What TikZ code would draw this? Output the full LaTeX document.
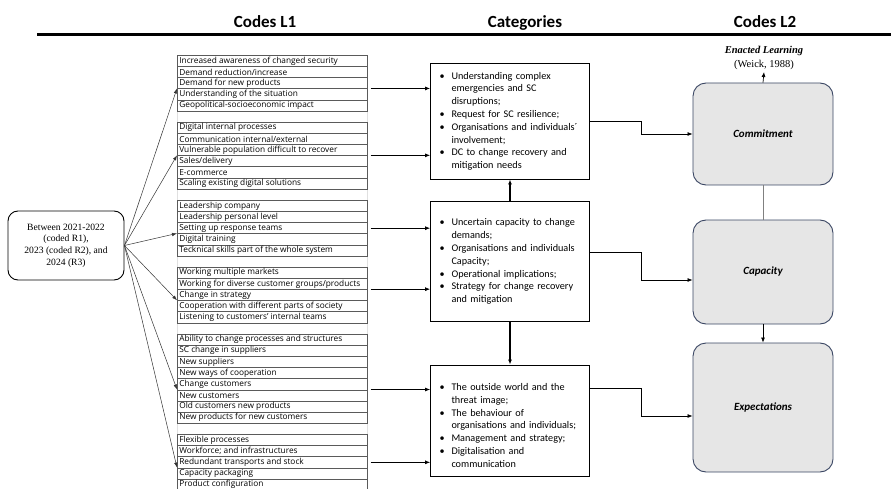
\documentclass[tikz,border=0pt]{standalone}
\usepackage{fontspec}
\setmainfont{Liberation Serif}
\newfontfamily\calib{Carlito}
\newfontfamily\listsans{Open Sans}
\usetikzlibrary{arrows.meta}
\definecolor{l2fill}{HTML}{E6E6E6}
\definecolor{l2line}{HTML}{3A4663}
\definecolor{rowline}{HTML}{5A5A5A}
\hyphenpenalty=10000
\exhyphenpenalty=10000
\newcommand\codegroup[3]{%
  \foreach \txt [count=\i] in {#3}{%
    \node[coderow] (#1-\i) at (177,{55+(#2+\i-1)*11.15}) {\makebox[186pt][l]{\txt}};}}
\newcommand\bul{\makebox[12pt][l]{\textbullet}}
\newcommand\cont{\hspace*{12pt}}
\begin{document}
\begin{tikzpicture}[x=1pt,y=-1pt,
  coderow/.style={draw=rowline, line width=0.7pt, anchor=north west,
    inner xsep=2pt, inner ysep=0pt, minimum height=11.15pt,
    font=\listsans\fontsize{8.3}{9}\selectfont},
  cat/.style={draw, line width=0.9pt, text width=141pt, inner xsep=9pt, inner ysep=0pt,
    align=left, font=\calib\fontsize{10.2}{12.8}\selectfont},
  leftbox/.style={draw, rounded corners=10pt, line width=0.9pt, minimum width=116pt,
    minimum height=69pt, align=center, font=\fontsize{9.6}{11.7}\selectfont},
  l2/.style={draw=l2line, fill=l2fill, rounded corners=13pt, line width=0.9pt,
    minimum width=140pt, font=\calib\bfseries\itshape\fontsize{11}{13}\selectfont},
  header/.style={anchor=base, font=\calib\bfseries\fontsize{17}{20}\selectfont},
  arr/.style={-{Latex[length=5pt,width=4pt]}, line width=0.7pt},
  fan/.style={-{Latex[length=5pt,width=3.5pt]}, line width=0.5pt, draw=black!80},
  bigarr/.style={-{Latex[length=5pt,width=4pt]}, line width=1.2pt}
]
\useasboundingbox (0,0) rectangle (891,489);

% headers
\node[header] (h1) at (265,28) {Codes L1};
\node[header] (h2) at (525,28) {Categories};
\node[header] (h3) at (765,28) {Codes L2};
\draw[line width=3pt] (37,34.5) -- (891,34.5);

% faint table frame
\draw[black!12, line width=0.6pt] (177,55) rectangle (367,492);

% code groups
\codegroup{ga}{0}{Increased awareness of changed security,Demand reduction/increase,Demand for new products,Understanding of the situation,Geopolitical-socioeconomic impact}
\codegroup{gb}{6}{Digital internal processes,Communication internal/external,Vulnerable population difficult to recover,Sales/delivery,E-commerce,Scaling existing digital solutions}
\codegroup{gc}{13}{Leadership company,Leadership personal level,Setting up response teams,Digital training,Tecknical skills part of the whole system}
\codegroup{gd}{19}{Working multiple markets,Working for diverse customer groups/products,Change in strategy,Cooperation with different parts of society,Listening to customers’ internal teams}
\codegroup{ge}{25}{Ability to change  processes and structures,SC change in suppliers,New suppliers,New ways of cooperation,Change customers,New customers,Old customers new products,New products  for new customers}
\codegroup{gf}{34}{Flexible processes,Workforce; and infrastructures,Redundant transports and stock,Capacity packaging,Product configuration}

% left source box
\node[leftbox] (src) at (66,245.5) {Between 2021-2022\\(coded R1),\\2023 (coded R2), and\\2024 (R3)};

\draw[fan] (src.east) -- (ga-4.north west);
\draw[fan] (src.east) -- (gb-4.north west);
\draw[fan] (src.east) -- (gc-4.north west);
\draw[fan] (src.east) -- (gd-4.north west);
\draw[fan] (src.east) -- (ge-6.north west);
\draw[fan] (src.east) -- (gf-4.north west);

% categories
\node[cat, minimum height=115.7pt] (cat1) at (510,121.2) {%
\bul Understanding complex\\
\cont emergencies and SC\\
\cont disruptions;\\
\bul Request for SC resilience;\\
\bul Organisations and individuals´\\
\cont involvement;\\
\bul DC to change recovery and\\
\cont mitigation needs};
\node[cat, minimum height=120pt] (cat2) at (510,261.7) {%
\bul Uncertain capacity to change\\
\cont demands;\\
\bul Organisations and individuals\\
\cont Capacity;\\
\bul Operational implications;\\
\bul Strategy for change recovery\\
\cont and mitigation};
\node[cat, minimum height=111pt] (cat3) at (510,420.5) {%
\rule{0pt}{17pt}\bul The outside world and the\\
\cont threat image;\\
\bul The behaviour of\\
\cont organisations and individuals;\\
\bul Management and strategy;\\
\bul Digitalisation and\\
\cont communication};

% codes -> categories
\draw[arr] ([xshift=3pt]ga-4.north east) coordinate (sa) -- (sa -| cat1.west);
\draw[arr] ([xshift=3pt]gb-4.north east) coordinate (sb) -- (sb -| cat1.west);
\draw[arr] ([xshift=3pt]gc-3.east) coordinate (sc) -- (sc -| cat2.west);
\draw[arr] ([xshift=3pt]gd-3.north east) coordinate (sd) -- (sd -| cat2.west);
\draw[arr] ([xshift=3pt]ge-6.north east) coordinate (se) -- (se -| cat3.west);
\draw[arr] ([xshift=3pt]gf-3.east) coordinate (sf) -- (sf -| cat3.west);

\draw[bigarr] (cat2.north) -- (cat1.south);
\draw[bigarr] (cat2.south) -- (cat3.north);

% L2
\node[l2, minimum height=102pt] (commit) at (763,134) {Commitment};
\node[l2, minimum height=104pt] (cap) at (763,272) {Capacity};
\node[l2, minimum height=129pt] (expe) at (763,407.5) {Expectations};

\node[anchor=south, inner sep=0pt, align=center, font=\fontsize{10.5}{14}\selectfont] (enact) at (764,70)
  {\textbf{\textit{Enacted Learning}}\\(Weick, 1988)};
\draw[arr] (commit.north) -- ([yshift=-2pt]enact.south);
\draw[black!50, line width=0.8pt] (commit.south) -- (cap.north);
\draw[arr] (cap.south) -- (expe.north);

\coordinate (elbx) at (641,0);
\draw[arr] (cat1.east) -- (cat1.east -| elbx) |- (commit.west);
\draw[arr] ([yshift=9pt]cat2.east) coordinate (t2) -- (t2 -| elbx) |- ([yshift=-8pt]cap.west);
\draw[arr] ([yshift=32.5pt]cat3.east) coordinate (t3) -- (t3 -| elbx) |- ([yshift=-8.5pt]expe.west);
\end{tikzpicture}
\end{document}
